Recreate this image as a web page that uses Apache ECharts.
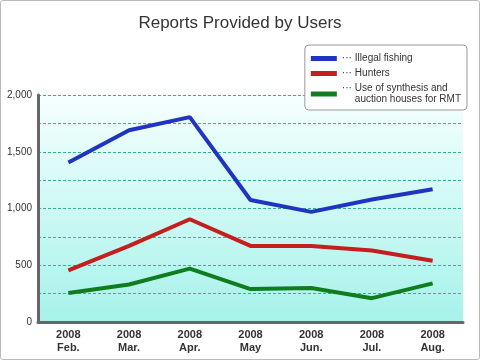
<!DOCTYPE html>
<html><head><meta charset="utf-8">
<script src="https://cdn.jsdelivr.net/npm/echarts@6/dist/echarts.min.js"></script>
<style>html,body{margin:0;padding:0;background:#fff}
#c{width:480px;height:360px;box-sizing:border-box;border:1px solid #bbb;border-radius:3px}</style>
</head><body><div id="c"></div>
<script>
const categories = ['2008\nFeb.','2008\nMar.','2008\nApr.','2008\nMay','2008\nJun.','2008\nJul.','2008\nAug.'];
const seriesNames = ['Illegal fishing','Hunters','Use of synthesis and\nauction houses for RMT'];
const illegalFishing = [1405, 1690, 1805, 1075, 970, 1080, 1170];
const hunters = [455, 670, 905, 670, 670, 630, 540];
const synthesisRMT = [255, 330, 470, 290, 300, 210, 340];
const colors = ['#1f35c0','#c41e1e','#0f7d1e'];
const yTicks = [0, 500, 1000, 1500, 2000];

const chart = echarts.init(document.getElementById('c'));
const font = 'Liberation Sans, Arial, sans-serif';
chart.setOption({
  animation:false,
  title:{text:'Reports Provided by Users',left:'center',top:9,
    textStyle:{fontSize:17,fontWeight:'normal',color:'#333',fontFamily:font}},
  legend:{orient:'vertical',right:12,top:44,itemWidth:26,itemHeight:5,itemGap:4,
    backgroundColor:'#fff',borderColor:'#999',borderWidth:1,borderRadius:4,
    padding:[8,6,5,6],
    icon:'rect',
    formatter:n=>n.split('\n').map((l,i)=>(i?'{d|}':'{d|···}')+'{t|'+l+'}').join('\n'),
    textStyle:{fontSize:10,color:'#333',fontFamily:font,lineHeight:11,
      rich:{d:{width:13,fontSize:10,color:'#333',lineHeight:11},t:{fontSize:10,color:'#333',lineHeight:11}}},
    data:seriesNames},
  grid:{left:37,right:16,top:94,bottom:37,show:true,borderWidth:0,
    backgroundColor:new echarts.graphic.LinearGradient(0,0,0,1,[
      {offset:0,color:'#f6fffe'},{offset:1,color:'#a6f2ea'}])},
  xAxis:{type:'category',data:categories,boundaryGap:true,
    axisLine:{lineStyle:{color:'#666',width:3}},
    axisTick:{inside:true,length:5,lineStyle:{color:'#666',width:2}},
    axisLabel:{color:'#333',fontSize:11,fontWeight:'bold',fontFamily:font,lineHeight:13,margin:6}},
  yAxis:{type:'value',min:0,max:2000,interval:250,
    axisLine:{show:true,lineStyle:{color:'#666',width:3}},
    axisTick:{show:false},
    axisLabel:{color:'#333',fontSize:10,fontFamily:font,margin:6,
      formatter:v=>yTicks.includes(v)?v.toLocaleString('en-US'):''},
    splitLine:{lineStyle:{color:'#2fb58f',type:[3,2],width:1}}},
  series:[
    {name:seriesNames[0],type:'line',data:illegalFishing,symbol:'none',lineStyle:{width:4,color:colors[0]},itemStyle:{color:colors[0]},z:3},
    {name:seriesNames[1],type:'line',data:hunters,symbol:'none',lineStyle:{width:4,color:colors[1]},itemStyle:{color:colors[1]},z:3},
    {name:seriesNames[2],type:'line',data:synthesisRMT,symbol:'none',lineStyle:{width:4,color:colors[2]},itemStyle:{color:colors[2]},z:3}
  ]
});
</script></body></html>
